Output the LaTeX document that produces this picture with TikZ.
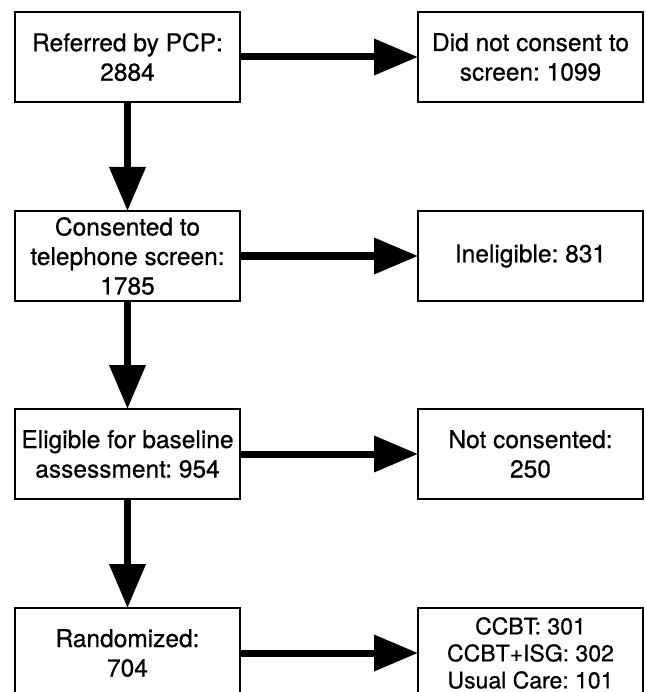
\documentclass[tikz,border=0pt]{standalone}
\usepackage{fontspec}
\setmainfont{TeX Gyre Heros}[FakeBold=0.6]
\frenchspacing
\usetikzlibrary{arrows.meta}
\tikzset{
  box/.style={draw, line width=1.8pt, minimum width=225pt, minimum height=90pt,
    inner sep=0pt, outer sep=0pt, align=center, font=\fontsize{24.5}{29.5}\selectfont\frenchspacing},
  box3/.style={box, font=\fontsize{23}{27}\selectfont\frenchspacing},
  flow/.style={line width=7pt, -{Triangle[length=44pt,width=35pt]}}
}
\begin{document}
\begin{tikzpicture}[x=1pt,y=-1pt]
\useasboundingbox (0,0) rectangle (645,692);
\clip (0,0) rectangle (645,692);
\node[box] (a) at (127.5,57) {Referred by PCP:\\2884};
\node[box] (b) at (127.5,256) {Consented to\\telephone screen:\\1785};
\node[box] (c) at (127.5,454) {Eligible for baseline\\assessment: 954};
\node[box] (d) at (127.5,653) {Randomized:\\704};
\node[box] (ra) at (530.5,57) {Did not consent to\\screen: 1099};
\node[box] (rb) at (530.5,256) {Ineligible: 831};
\node[box] (rc) at (530.5,454) {Not consented:\\250};
\node[box3] (rd) at (530.5,653) {CCBT: 301\\CCBT+ISG: 302\\Usual Care: 101};
\draw[flow] (a) -- (b);
\draw[flow] (b) -- (c);
\draw[flow] (c) -- (d);
\draw[flow] (a) -- (ra);
\draw[flow] (b) -- (rb);
\draw[flow] (c) -- (rc);
\draw[flow] (d) -- (rd);
\end{tikzpicture}
\end{document}
